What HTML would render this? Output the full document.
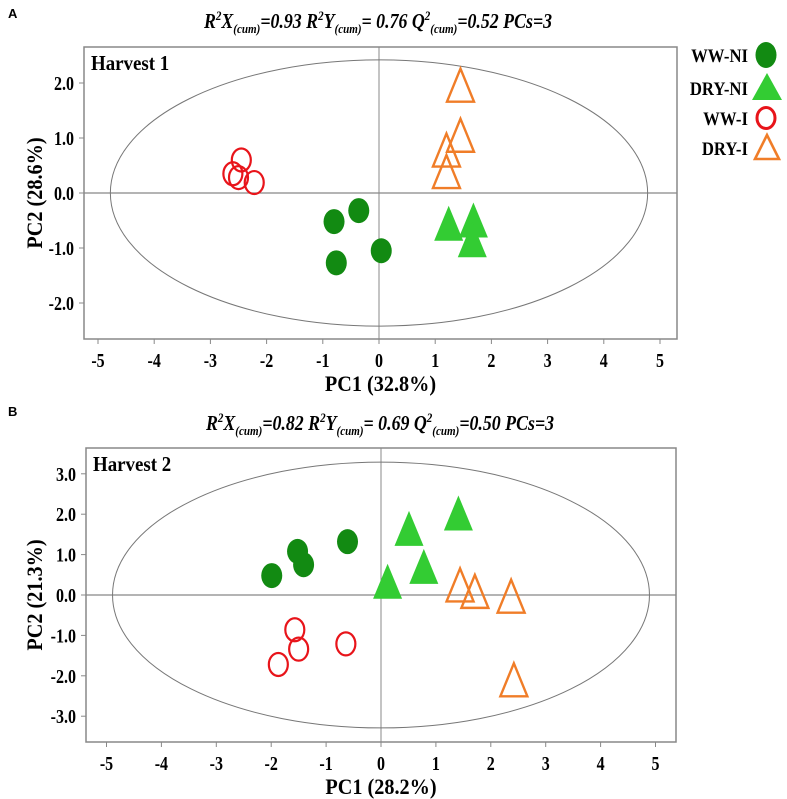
<!DOCTYPE html>
<html><head><meta charset="utf-8">
<style>
body{margin:0;background:#fff;width:787px;height:799px;overflow:hidden;position:relative;font-family:"Liberation Serif",serif;}
.t{position:absolute;white-space:nowrap;}
.title{font-weight:bold;font-style:italic;font-size:21px;transform:scaleX(0.85);transform-origin:center;}
.title sup,.title sub{font-size:13px;}
svg{position:absolute;left:0;top:0;}
</style></head><body>
<div class="t" style="left:8px;top:6px;font:bold 13px 'Liberation Sans',sans-serif;">A</div>
<div class="t title" style="left:148px;width:460px;text-align:center;top:8px;">R<sup>2</sup>X<sub>(cum)</sub>=0.93 R<sup>2</sup>Y<sub>(cum)</sub>= 0.76 Q<sup>2</sup><sub>(cum)</sub>=0.52 PCs=3</div>
<div class="t" style="left:8px;top:404px;font:bold 13px 'Liberation Sans',sans-serif;">B</div>
<div class="t title" style="left:150px;width:460px;text-align:center;top:410px;">R<sup>2</sup>X<sub>(cum)</sub>=0.82 R<sup>2</sup>Y<sub>(cum)</sub>= 0.69 Q<sup>2</sup><sub>(cum)</sub>=0.50 PCs=3</div>
<svg id="chart" width="787" height="799"></svg>
<script>
// Panel A data
const aWWNI = [[-0.36,-0.32],[-0.8,-0.52],[-0.76,-1.27],[0.04,-1.05]];
const aDRYNI = [[1.24,-0.55],[1.68,-0.49],[1.66,-0.85]];
const aWWI = [[-2.45,0.6],[-2.6,0.35],[-2.5,0.28],[-2.22,0.19]];
const aDRYI = [[1.45,1.96],[1.45,1.05],[1.2,0.78],[1.2,0.39]];
const aXTicks = [-5,-4,-3,-2,-1,0,1,2,3,4,5];
const aYTicks = [2,1,0,-1,-2];
// Panel B data
const bWWNI = [[-0.61,1.32],[-1.52,1.08],[-1.41,0.75],[-1.99,0.48]];
const bDRYNI = [[0.51,1.65],[1.41,2.03],[0.78,0.71],[0.12,0.34]];
const bWWI = [[-1.57,-0.86],[-1.5,-1.34],[-1.87,-1.72],[-0.64,-1.21]];
const bDRYI = [[1.44,0.25],[1.71,0.09],[2.37,-0.03],[2.42,-2.1]];
const bXTicks = [-5,-4,-3,-2,-1,0,1,2,3,4,5];
const bYTicks = [3,2,1,0,-1,-2,-3];

const NS="http://www.w3.org/2000/svg";
const svg=document.getElementById('chart');
const C={wwni:'#128a12',dryni:'#33cc33',wwi:'#e8141a',dryi:'#f07d28'};
function mk(tag,at,parent){const e=document.createElementNS(NS,tag);for(const k in at)e.setAttribute(k,at[k]);(parent||svg).appendChild(e);return e;}
function txt(s,at,parent){const e=mk('text',at,parent);e.textContent=s;return e;}

function panel(p){
  const g=mk('g',{});
  
  
  const sx=v=>p.x0+v*p.kx, sy=v=>p.y0-v*p.ky;
  const box=mk('rect',{x:p.L,y:p.T,width:p.R-p.L,height:p.B-p.T,fill:'none',stroke:'#888','stroke-width':1.5},g);
  
  
  mk('line',{x1:p.L,x2:p.R,y1:sy(0),y2:sy(0),stroke:'#888','stroke-width':1.2},g);
  mk('line',{x1:sx(0),x2:sx(0),y1:p.T,y2:p.B,stroke:'#888','stroke-width':1},g);
  const el=mk('ellipse',{cx:sx(0),cy:sy(0),rx:p.erx*p.kx,ry:p.ery*p.ky,fill:'none',stroke:'#777','stroke-width':1},g);
  
  
  p.xt.forEach(v=>{
    mk('line',{x1:sx(v),x2:sx(v),y1:p.B,y2:p.B+5,stroke:'#888'},g);
    const t=txt(String(v),{x:0,y:0,transform:`translate(${sx(v)},${p.B+28}) scale(0.8,1)`,'text-anchor':'middle','font-size':20,'font-weight':'bold','font-family':'Liberation Serif, serif'},g);
    
    
  });
  p.yt.forEach(v=>{
    mk('line',{x1:p.L-5,x2:p.L,y1:sy(v),y2:sy(v),stroke:'#888'},g);
    const t=txt(v.toFixed(1),{x:0,y:0,transform:`translate(${p.L-10},${sy(v)+7}) scale(0.8,1)`,'text-anchor':'end','font-size':20,'font-weight':'bold','font-family':'Liberation Serif, serif'},g);
    
    
  });
  const xl=txt(p.xlab,{x:0,y:0,transform:`translate(${(p.L+p.R)/2},${p.B+52}) scale(0.92,1)`,'text-anchor':'middle','font-size':22,'font-weight':'bold','font-family':'Liberation Serif, serif'},g);
  
  
  const yc=(p.T+p.B)/2;
  const yl=txt(p.ylab,{x:0,y:0,transform:`translate(42,${yc}) rotate(-90) scale(0.92,1)`,'text-anchor':'middle','font-size':22,'font-weight':'bold','font-family':'Liberation Serif, serif'},g);
  
  
  const hl=txt(p.harvest,{x:0,y:0,transform:`translate(${p.L+7},${p.T+23}) scale(0.9,1)`,'font-size':21,'font-weight':'bold','font-family':'Liberation Serif, serif'},g);
  
  
  p.wwni.forEach(d=>{const m=mk('ellipse',{cx:sx(d[0]),cy:sy(d[1]),rx:10.5,ry:12.5,fill:C.wwni},g);
    
    });
  p.wwi.forEach(d=>{const m=mk('ellipse',{cx:sx(d[0]),cy:sy(d[1]),rx:9.5,ry:11.5,fill:'none',stroke:C.wwi,'stroke-width':2.2},g);
    
    });
  const tri=(cx,cy,w,h)=>`${cx},${cy-h/2} ${cx-w/2},${cy+h/2} ${cx+w/2},${cy+h/2}`;
  p.dryni.forEach(d=>{const m=mk('polygon',{points:tri(sx(d[0]),sy(d[1]),29,35),fill:C.dryni},g);
    
    });
  p.dryi.forEach(d=>{const m=mk('polygon',{points:tri(sx(d[0]),sy(d[1]),27,33),fill:'none',stroke:C.dryi,'stroke-width':2.4},g);
    
    });
}
panel({name:'panel-a',L:84,R:677,T:47,B:339,x0:379,kx:56.2,y0:193,ky:55,erx:4.78,ery:2.42,xt:aXTicks,yt:aYTicks,
  xlab:'PC1 (32.8%)',ylab:'PC2 (28.6%)',harvest:'Harvest 1',wwni:aWWNI,dryni:aDRYNI,wwi:aWWI,dryi:aDRYI});
panel({name:'panel-b',L:86,R:676,T:448,B:742,x0:381,kx:54.9,y0:595,ky:40.4,erx:4.89,ery:3.29,xt:bXTicks,yt:bYTicks,
  xlab:'PC1 (28.2%)',ylab:'PC2 (21.3%)',harvest:'Harvest 2',wwni:bWWNI,dryni:bDRYNI,wwi:bWWI,dryi:bDRYI});

// Legend
const legLabels=['WW-NI','DRY-NI','WW-I','DRY-I'];
const legY=[55,88,118,148];
const lg=mk('g',{});


legLabels.forEach((s,i)=>{
  const y=legY[i];
  const t=txt(s,{x:0,y:0,transform:`translate(748,${y+7}) scale(0.88,1)`,'text-anchor':'end','font-size':19,'font-weight':'bold','font-family':'Liberation Serif, serif'},lg);
  
  
  let m;
  if(i===0)m=mk('ellipse',{cx:766,cy:y,rx:10.5,ry:13,fill:C.wwni},lg);
  if(i===1)m=mk('polygon',{points:`767,${y-15} 752,${y+12} 782,${y+12}`,fill:C.dryni},lg);
  if(i===2)m=mk('ellipse',{cx:766,cy:y,rx:9,ry:10.5,fill:'none',stroke:C.wwi,'stroke-width':3},lg);
  if(i===3)m=mk('polygon',{points:`767,${y-13} 755,${y+11} 779,${y+11}`,fill:'none',stroke:C.dryi,'stroke-width':2.6},lg);
  
  
});
</script>
</body></html>
